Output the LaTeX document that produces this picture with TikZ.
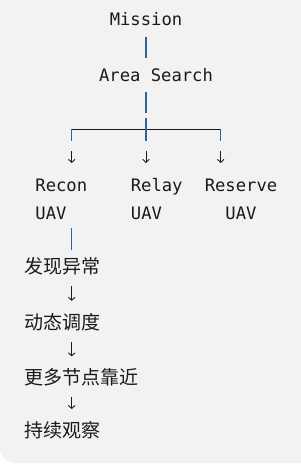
\documentclass[tikz,border=0pt]{standalone}
\usepackage{fontspec}
\setmonofont{DejaVu Sans Mono}
\newfontfamily\cjk{Noto Sans CJK SC}
\usepackage{tikz}
\usetikzlibrary{positioning,arrows.meta}
\definecolor{CodeBg}{HTML}{F2F2F2}
\definecolor{TextDark}{HTML}{1A1A1A}
\definecolor{BarBlue}{HTML}{2F6496}

\begin{document}
\begin{tikzpicture}[
    x=1pt, y=-1pt,
    mono/.style={inner sep=0pt, anchor=base, font=\fontsize{17.2pt}{20pt}\selectfont\ttfamily, text=TextDark},
    cjk/.style={inner sep=0pt, anchor=base west, font=\fontsize{19pt}{22pt}\selectfont\cjk, text=TextDark},
    vbar/.style={draw=BarBlue, line width=1.3pt},
    hbar/.style={draw=TextDark, line width=1pt},
    arrow/.style={-{Straight Barb[length=3pt,width=6.5pt]}, line width=0.9pt, TextDark},
    chain/.style={arrow, shorten <=12.5pt, shorten >=28.5pt}
  ]
    \useasboundingbox (0,0) rectangle (300,470);
    \fill [CodeBg, rounded corners=16pt] (0,-30) rectangle (330,463);

    % Mission and search
    \node (mission) [mono] at (146,26) {Mission};
    \node (area) [mono] at (156,81.7) {Area Search};

    % UAV roles
    \node (recon) [mono] at (61.3,191) {Recon};
    \node (relay) [mono] at (156.7,191) {Relay};
    \node (reserve) [mono] at (241,191) {Reserve};
    \node (reconuav) [mono] at (51,219.3) {UAV};
    \node (relayuav) [mono] at (146.5,219.3) {UAV};
    \node (reserveuav) [mono] at (241,219.3) {UAV};

    % Recon branch
    \node (found) [cjk] at (24.3,273.4) {发现异常};
    \node (dispatch) [cjk, below=56pt of found.base west, anchor=base west] {动态调度};
    \node (approach) [cjk, below=55.5pt of dispatch.base west, anchor=base west] {更多节点靠近};
    \node (observe) [cjk, below=52.7pt of approach.base west, anchor=base west] {持续观察};

    % Split points
    \coordinate (split) at (146,129.5);
    \coordinate (lcorner) at (71.7,129.5);
    \coordinate (rcorner) at (220.7,129.5);

    % Connections
    \draw [vbar, shorten <=11pt, shorten >=23.5pt] (mission.base) -- (mission.base |- area.base);
    \draw [vbar, shorten <=10pt, shorten >=16.5pt] (mission.base |- area.base) -- (split);
    \draw [hbar] (lcorner) -- (rcorner);
    \draw [vbar] ([yshift=11pt]split) -- ([yshift=-11.5pt]split);
    \draw [vbar] (lcorner) -- ([yshift=-11.5pt]lcorner);
    \draw [vbar] (rcorner) -- ([yshift=-11.5pt]rcorner);
    \draw [arrow, shorten <=22pt, shorten >=28pt] (lcorner) -- (lcorner |- recon.base);
    \draw [arrow, shorten <=22pt, shorten >=28pt] (split) -- (split |- relay.base);
    \draw [arrow, shorten <=22pt, shorten >=28pt] (rcorner) -- (rcorner |- reserve.base);
    \draw [vbar, line width=1pt, shorten <=8.7pt, shorten >=23.4pt] (lcorner |- reconuav.base) -- (lcorner |- found.base);
    \draw [chain] (lcorner |- found.base) -- (lcorner |- dispatch.base);
    \draw [chain] (lcorner |- dispatch.base) -- (lcorner |- approach.base);
    \draw [chain] (lcorner |- approach.base) -- (lcorner |- observe.base);
  \end{tikzpicture}
\end{document}
